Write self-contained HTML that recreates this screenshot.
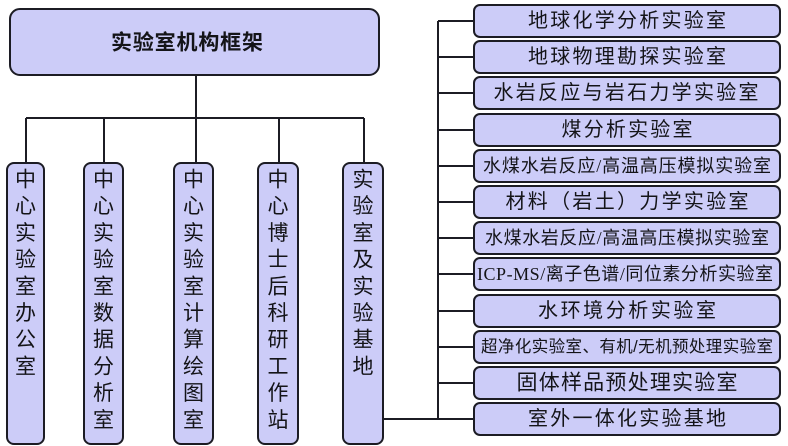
<!DOCTYPE html>
<html><head><meta charset="utf-8"><style>
html,body{margin:0;padding:0;background:#fff;}
svg{display:block;}
text{font-family:"Liberation Sans","Noto Sans CJK SC",sans-serif;fill:#141418;}
.s{font-family:"Liberation Serif","Noto Serif CJK SC",serif;}
</style></head><body>
<svg width="788" height="446" viewBox="0 0 788 446" xmlns="http://www.w3.org/2000/svg">
<g stroke="#1c1c24" stroke-width="2" fill="none">
<line x1="196" y1="75" x2="196" y2="118"/>
<line x1="26" y1="118" x2="364" y2="118"/>
<line x1="26" y1="118" x2="26" y2="163"/>
<line x1="104" y1="118" x2="104" y2="163"/>
<line x1="196" y1="118" x2="196" y2="163"/>
<line x1="279" y1="118" x2="279" y2="163"/>
<line x1="364" y1="118" x2="364" y2="163"/>
<line x1="383" y1="419" x2="474" y2="419"/>
<line x1="438" y1="21" x2="438" y2="419"/>
<line x1="438" y1="21" x2="474" y2="21"/>
<line x1="438" y1="57" x2="474" y2="57"/>
<line x1="438" y1="93" x2="474" y2="93"/>
<line x1="438" y1="130" x2="474" y2="130"/>
<line x1="438" y1="166" x2="474" y2="166"/>
<line x1="438" y1="202" x2="474" y2="202"/>
<line x1="438" y1="238" x2="474" y2="238"/>
<line x1="438" y1="274" x2="474" y2="274"/>
<line x1="438" y1="311" x2="474" y2="311"/>
<line x1="438" y1="347" x2="474" y2="347"/>
<line x1="438" y1="383" x2="474" y2="383"/>
</g>
<g fill="#ccccf8" stroke="#1c1c24" stroke-width="2">
<rect x="10" y="9" width="369" height="66" rx="10"/>
<rect x="7" y="163" width="37" height="281" rx="7"/>
<rect x="84" y="163" width="39" height="281" rx="7"/>
<rect x="174" y="163" width="39" height="281" rx="7"/>
<rect x="258" y="163" width="40" height="281" rx="7"/>
<rect x="343" y="163" width="40" height="281" rx="7"/>
<rect x="474" y="5" width="306" height="32" rx="6"/>
<rect x="474" y="41" width="306" height="32" rx="6"/>
<rect x="474" y="77" width="306" height="32" rx="6"/>
<rect x="474" y="114" width="306" height="32" rx="6"/>
<rect x="474" y="150" width="306" height="32" rx="6"/>
<rect x="474" y="186" width="306" height="32" rx="6"/>
<rect x="474" y="222" width="306" height="32" rx="6"/>
<rect x="474" y="258" width="306" height="32" rx="6"/>
<rect x="474" y="295" width="306" height="32" rx="6"/>
<rect x="474" y="331" width="306" height="32" rx="6"/>
<rect x="474" y="367" width="306" height="32" rx="6"/>
<rect x="474" y="403" width="306" height="32" rx="6"/>
</g>
<text x="187" y="43" font-size="21" font-weight="bold" text-anchor="middle" dominant-baseline="central" textLength="152" lengthAdjust="spacing">实验室机构框架</text>

<g font-size="21" text-anchor="middle" dominant-baseline="central">
<text x="25.5" y="180">中</text><text x="25.5" y="206.7">心</text><text x="25.5" y="233.4">实</text><text x="25.5" y="260.1">验</text><text x="25.5" y="286.8">室</text><text x="25.5" y="313.5">办</text><text x="25.5" y="340.2">公</text><text x="25.5" y="366.9">室</text>

<text x="103.5" y="180">中</text><text x="103.5" y="206.7">心</text><text x="103.5" y="233.4">实</text><text x="103.5" y="260.1">验</text><text x="103.5" y="286.8">室</text><text x="103.5" y="313.5">数</text><text x="103.5" y="340.2">据</text><text x="103.5" y="366.9">分</text><text x="103.5" y="393.6">析</text><text x="103.5" y="420.3">室</text>

<text x="193.5" y="180">中</text><text x="193.5" y="206.7">心</text><text x="193.5" y="233.4">实</text><text x="193.5" y="260.1">验</text><text x="193.5" y="286.8">室</text><text x="193.5" y="313.5">计</text><text x="193.5" y="340.2">算</text><text x="193.5" y="366.9">绘</text><text x="193.5" y="393.6">图</text><text x="193.5" y="420.3">室</text>

<text x="278" y="180">中</text><text x="278" y="206.7">心</text><text x="278" y="233.4">博</text><text x="278" y="260.1">士</text><text x="278" y="286.8">后</text><text x="278" y="313.5">科</text><text x="278" y="340.2">研</text><text x="278" y="366.9">工</text><text x="278" y="393.6">作</text><text x="278" y="420.3">站</text>

<text x="363" y="180">实</text><text x="363" y="206.7">验</text><text x="363" y="233.4">室</text><text x="363" y="260.1">及</text><text x="363" y="286.8">实</text><text x="363" y="313.5">验</text><text x="363" y="340.2">基</text><text x="363" y="366.9">地</text>
</g>

<g text-anchor="middle" dominant-baseline="central">
<text x="627" y="21" font-size="20" textLength="198" lengthAdjust="spacing">地球化学分析实验室</text>
<text x="627" y="57" font-size="20" textLength="198" lengthAdjust="spacing">地球物理勘探实验室</text>
<text x="626" y="93" font-size="20" textLength="265" lengthAdjust="spacing">水岩反应与岩石力学实验室</text>
<text x="627" y="130" font-size="20" textLength="131" lengthAdjust="spacing">煤分析实验室</text>
<text x="627" y="166" font-size="18" textLength="288" lengthAdjust="spacing">水煤水岩反应<tspan class="s">/</tspan>高温高压模拟实验室</text>
<text x="627" y="202" font-size="20" textLength="243" lengthAdjust="spacing">材料（岩土）力学实验室</text>
<text x="627" y="238" font-size="18" textLength="284" lengthAdjust="spacing">水煤水岩反应<tspan class="s">/</tspan>高温高压模拟实验室</text>
<text x="625" y="274" font-size="18" textLength="296" lengthAdjust="spacing"><tspan class="s">ICP-MS/</tspan>离子色谱<tspan class="s">/</tspan>同位素分析实验室</text>
<text x="627" y="311" font-size="20" textLength="178" lengthAdjust="spacing">水环境分析实验室</text>
<text x="627" y="347" font-size="16.5" textLength="292" lengthAdjust="spacing">超净化实验室、有机/无机预处理实验室</text>
<text x="627" y="383" font-size="21" textLength="221" lengthAdjust="spacing">固体样品预处理实验室</text>
<text x="627" y="419" font-size="20" textLength="198" lengthAdjust="spacing">室外一体化实验基地</text>
</g>
</svg>
</body></html>
